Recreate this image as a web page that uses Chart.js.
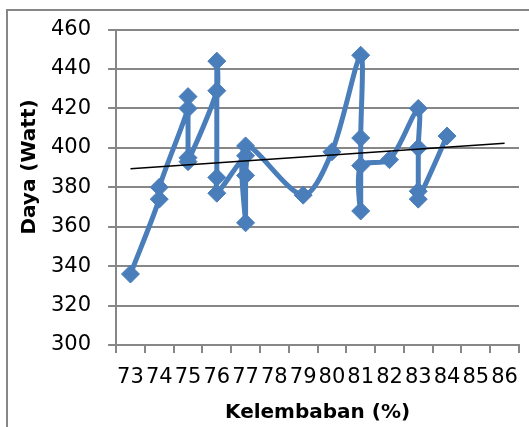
<!DOCTYPE html>
<html><head><meta charset="utf-8">
<script src="https://cdn.jsdelivr.net/npm/chart.js@4.4.1/dist/chart.umd.min.js"></script>
<style>
html,body{margin:0;padding:0;background:#fff;overflow:hidden;}
#wrap{position:relative;width:529px;height:427px;overflow:hidden;}
#frame{position:absolute;left:6px;top:9px;width:600px;height:600px;border:2px solid #878787;box-sizing:border-box;}
canvas{position:absolute;left:0;top:0;}
</style></head><body>
<div id="wrap"><div id="frame"></div><canvas id="c" width="529" height="427"></canvas></div>
<script>
// Data (in plotted order)
const humidity = [73,74,74,75,75,75,75,76,76,76,76,77,77,77,77,79,80,81,81,81,81,82,83,83,83,83,84];
const power    = [336,374,380,420,426,395,393,429,444,385,377,396,386,362,401,376,398,447,405,368,391,394,420,400,378,374,406];
// Linear trendline end points (as shown in the reference)
const trendX = [73, 86];
const trendY = [389.4, 402.3];
// Axis ticks
const xTicks = [73,74,75,76,77,78,79,80,81,82,83,84,85,86];
const yTicks = [300,320,340,360,380,400,420,440,460];
const xTitle = 'Kelembaban (%)';
const yTitle = 'Daya (Watt)';

const blue = '#4A7EBB';
const gridGray = '#878787';
const font = 'DejaVu Sans';

const yTitlePlugin = {
  id: 'yTitle',
  afterDraw(chart) {
    const c = chart.ctx;
    c.save();
    c.translate(30, 167);
    c.rotate(-Math.PI / 2);
    c.font = 'bold 20px "DejaVu Sans"';
    c.fillStyle = '#000';
    c.textAlign = 'center';
    c.textBaseline = 'middle';
    c.fillText(yTitle, 0, 0);
    c.restore();
  }
};

new Chart(document.getElementById('c'), {
  type: 'scatter',
  data: {
    datasets: [
      {
        label: 'Trend',
        data: trendX.map((x, i) => ({x, y: trendY[i]})),
        showLine: true,
        borderColor: '#000',
        borderWidth: 1.5,
        pointRadius: 0,
        tension: 0
      },
      {
        label: yTitle,
        data: humidity.map((x, i) => ({x, y: power[i]})),
        showLine: true,
        borderColor: blue,
        backgroundColor: blue,
        borderWidth: 5,
        tension: 0.3,
        pointStyle: 'rectRot',
        pointRadius: 9,
        pointBorderWidth: 1,
        pointBackgroundColor: blue,
        pointBorderColor: blue
      }
    ]
  },
  options: {
    responsive: false,
    devicePixelRatio: 1,
    animation: false,
    layout: {padding: {left: 34, right: 7, top: 29, bottom: 4}},
    plugins: {legend: {display: false}, tooltip: {enabled: false}},
    scales: {
      x: {
        type: 'linear',
        min: 72.5,
        max: 86.5,
        afterBuildTicks: s => { s.ticks = xTicks.map(v => ({value: v})); },
        grid: {display: true, drawOnChartArea: false, drawTicks: true, tickLength: 8, offset: true, color: gridGray, lineWidth: 2},
        border: {display: true, color: gridGray, width: 2},
        ticks: {autoSkip: false, maxRotation: 0, minRotation: 0, padding: 0, color: '#000', font: {family: font, size: 21, lineHeight: '50px'}},
        title: {display: true, text: xTitle, color: '#000', font: {family: font, size: 20, weight: 'bold', lineHeight: '20px'}, padding: {top: 0, bottom: 0}}
      },
      y: {
        min: 300,
        max: 460,
        afterBuildTicks: s => { s.ticks = yTicks.map(v => ({value: v})); },
        grid: {color: gridGray, lineWidth: 2, tickLength: 8},
        border: {display: true, color: gridGray, width: 2},
        ticks: {padding: 17, color: '#000', font: {family: font, size: 21}}
      }
    }
  },
  plugins: [yTitlePlugin]
});
</script>
</body></html>
